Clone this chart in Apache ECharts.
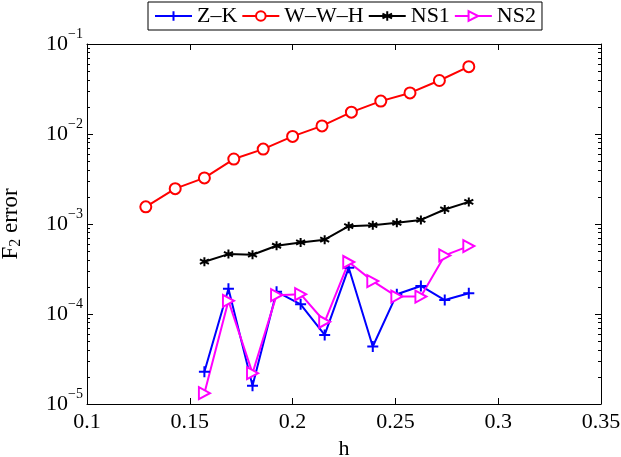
<!DOCTYPE html>
<html><head><meta charset="utf-8">
<script src="https://cdn.jsdelivr.net/npm/echarts@6/dist/echarts.min.js"></script>
<style>html,body{margin:0;padding:0;background:#fff}#c{width:621px;height:457px}</style>
</head><body><div id="c"></div>
<script>
// h values
const hWWH = [0.1286, 0.1429, 0.1571, 0.1714, 0.1857, 0.2000, 0.2143, 0.2286, 0.2429, 0.2571, 0.2714, 0.2857];
const hNS = [0.1571, 0.1688, 0.1805, 0.1922, 0.2039, 0.2156, 0.2273, 0.2390, 0.2507, 0.2624, 0.2740, 0.2857];
// F2 errors
const errZK = [2.28e-5, 1.91e-4, 1.6e-5, 1.77e-4, 1.28e-4, 5.86e-5, 3.27e-4, 4.35e-5, 1.66e-4, 2.05e-4, 1.43e-4, 1.70e-4];
const errWWH = [1.55e-3, 2.47e-3, 3.25e-3, 5.27e-3, 6.8e-3, 9.4e-3, 1.23e-2, 1.75e-2, 2.32e-2, 2.86e-2, 3.93e-2, 5.6e-2];
const errNS1 = [3.81e-4, 4.63e-4, 4.56e-4, 5.73e-4, 6.24e-4, 6.7e-4, 9.46e-4, 9.7e-4, 1.03e-3, 1.11e-3, 1.45e-3, 1.76e-3];
const errNS2 = [1.32e-5, 1.40e-4, 2.2e-5, 1.62e-4, 1.66e-4, 8.2e-5, 3.78e-4, 2.32e-4, 1.56e-4, 1.56e-4, 4.48e-4, 5.68e-4];
// axes
const xMin = 0.1, xMax = 0.35, xStep = 0.05;
const yMin = 1e-5, yMax = 1e-1;
const seriesNames = ['Z\u2013K', 'W\u2013W\u2013H', 'NS1', 'NS2'];

const FONT = 'Liberation Serif';
const minorY = [];
for (let d = -5; d < -1; d++) for (let k = 2; k <= 9; k++) minorY.push(k * Math.pow(10, d));

function pairs(xs, ys) { return xs.map((x, i) => [x, ys[i]]); }

const supLabel = {
  fontFamily: FONT, color: '#000', padding: [0, 0, 6, 0],
  formatter: v => '{b|10}{s|\u2212' + Math.abs(Math.round(Math.log10(v))) + '}',
  rich: {
    b: { fontFamily: FONT, fontSize: 22, color: '#000', padding: [6, 0, 0, 0], verticalAlign: 'bottom' },
    s: { fontFamily: FONT, fontSize: 14, color: '#000', verticalAlign: 'top' }
  }
};

const axisLine = { show: true, onZero: false, lineStyle: { color: '#000', width: 1 } };

const chart = echarts.init(document.getElementById('c'), null, { renderer: 'canvas' });
chart.setOption({
  animation: false,
  backgroundColor: '#fff',
  grid: { left: 87, right: 20, top: 44, bottom: 53, containLabel: false, outerBoundsMode: 'none' },
  legend: {
    data: seriesNames, left: 148, top: 2,
    itemWidth: 37, itemHeight: 12, itemGap: 4,
    textStyle: { fontFamily: FONT, fontSize: 22, color: '#000' },
    borderColor: '#000', borderWidth: 1, padding: [3, 6, 3, 6],
    backgroundColor: '#fff'
  },
  xAxis: [
    { type: 'value', min: xMin, max: xMax, interval: xStep, position: 'bottom',
      name: 'h', nameLocation: 'middle', nameGap: 31,
      nameTextStyle: { fontFamily: FONT, fontSize: 22, color: '#000' },
      axisLine, splitLine: { show: false },
      axisTick: { inside: true, length: 6, lineStyle: { color: '#000' } },
      axisLabel: { fontFamily: FONT, fontSize: 22, color: '#000', margin: 7, showMaxLabel: true, showMinLabel: true } },
    { type: 'value', min: xMin, max: xMax, interval: xStep, position: 'top',
      axisLine, splitLine: { show: false },
      axisTick: { inside: true, length: 6, lineStyle: { color: '#000' } },
      axisLabel: { show: false } }
  ],
  yAxis: [
    { type: 'log', logBase: 10, min: yMin, max: yMax, position: 'left',
      name: '{a|F}{sub|2}{a| error}', nameLocation: 'middle', nameGap: 63, nameRotate: 90,
      nameTextStyle: { fontFamily: FONT, fontSize: 23, color: '#000',
        rich: { a: { fontFamily: FONT, fontSize: 23, color: '#000' },
                sub: { fontFamily: FONT, fontSize: 16, color: '#000', verticalAlign: 'bottom', padding: [10, 0, 0, 0] } } },
      axisLine, splitLine: { show: false },
      axisTick: { inside: true, length: 6, lineStyle: { color: '#000' } },
      minorTick: { show: false },
      axisLabel: Object.assign({ margin: 4 }, supLabel) },
    { type: 'log', logBase: 10, min: yMin, max: yMax, position: 'left',
      axisLine: { show: false }, splitLine: { show: false },
      axisTick: { inside: true, length: 3, customValues: minorY, lineStyle: { color: '#000' } },
      axisLabel: { show: false } },
    { type: 'log', logBase: 10, min: yMin, max: yMax, position: 'right',
      axisLine, splitLine: { show: false },
      axisTick: { inside: true, length: 6, lineStyle: { color: '#000' } },
      axisLabel: { show: false } },
    { type: 'log', logBase: 10, min: yMin, max: yMax, position: 'right',
      axisLine: { show: false }, splitLine: { show: false },
      axisTick: { inside: true, length: 3, customValues: minorY, lineStyle: { color: '#000' } },
      axisLabel: { show: false } }
  ],
  series: [
    { name: seriesNames[0], type: 'line', data: pairs(hNS, errZK),
      symbol: 'path://M5,0L5,10M0,5L10,5', symbolSize: 11,
      lineStyle: { color: '#0000ff', width: 2 },
      itemStyle: { color: '#0000ff', borderColor: '#0000ff', borderWidth: 2 } },
    { name: seriesNames[1], type: 'line', data: pairs(hWWH, errWWH),
      symbol: 'emptyCircle', symbolSize: 11,
      lineStyle: { color: '#ff0000', width: 2 },
      itemStyle: { color: '#ff0000', borderColor: '#ff0000', borderWidth: 2 } },
    { name: seriesNames[2], type: 'line', data: pairs(hNS, errNS1),
      symbol: 'path://M5,0L5,10M0.67,2.5L9.33,7.5M0.67,7.5L9.33,2.5', symbolSize: 9,
      lineStyle: { color: '#000', width: 2 },
      itemStyle: { color: '#000', borderColor: '#000', borderWidth: 2 } },
    { name: seriesNames[3], type: 'line', data: pairs(hNS, errNS2),
      symbol: 'path://M0,0L10,5L0,10Z', symbolSize: [11, 12],
      lineStyle: { color: '#ff00ff', width: 2 },
      itemStyle: { color: '#fff', borderColor: '#ff00ff', borderWidth: 2 } }
  ]
});
</script></body></html>
